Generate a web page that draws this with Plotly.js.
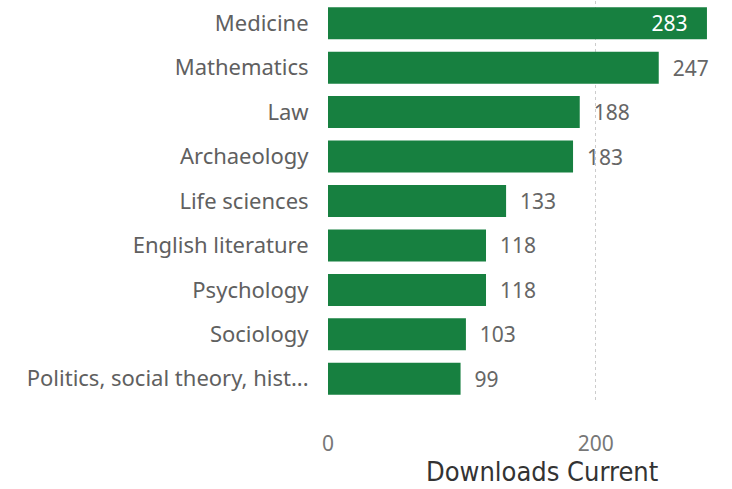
<!DOCTYPE html>
<html>
<head>
<meta charset="utf-8">
<script src="https://cdn.plot.ly/plotly-3.0.1.min.js"></script>
<style>html,body{margin:0;padding:0;background:#fff;}#chart{width:732px;height:489px;}</style>
</head>
<body>
<div id="chart"></div>
<script>
var categories = ["Medicine","Mathematics","Law","Archaeology","Life sciences","English literature","Psychology","Sociology","Politics, social theory, hist..."];
var downloads = [283, 247, 188, 183, 133, 118, 118, 103, 99];
var labelPositions = ["inside","outside","outside","outside","outside","outside","outside","outside","outside"];
var xTickValues = [0, 200];
var xAxisTitle = "Downloads Current";

var NB = "\u00a0\u00a0";
var labelTexts = downloads.map(function (v, i) {
  return labelPositions[i] === "inside" ? String(v) + NB + "\u00a0" : NB + String(v);
});

var trace = {
  type: "bar",
  orientation: "h",
  y: categories,
  x: downloads,
  text: labelTexts,
  textposition: labelPositions,
  insidetextanchor: "end",
  constraintext: "none",
  insidetextfont: {color: "#ffffff", size: 21, family: "Noto Sans, sans-serif"},
  outsidetextfont: {color: "#666666", size: 21, family: "Noto Sans, sans-serif"},
  cliponaxis: false,
  marker: {color: "#178040"},
  hoverinfo: "none"
};

var layout = {
  width: 732, height: 489,
  margin: {l: 328, r: 13, t: 1, b: 88},
  paper_bgcolor: "#ffffff", plot_bgcolor: "#ffffff",
  bargap: 0.28,
  showlegend: false,
  font: {family: "Noto Sans, sans-serif", color: "#666666", size: 20},
  xaxis: {
    range: [0, 292],
    tickvals: xTickValues,
    ticktext: xTickValues.map(String),
    showgrid: true, gridcolor: "#cccccc", griddash: "dot", gridwidth: 1,
    zeroline: false, showline: false,
    ticks: "outside", ticklen: 24, tickcolor: "rgba(0,0,0,0)",
    tickfont: {size: 21, color: "#777777"}
  },
  yaxis: {
    autorange: "reversed",
    showgrid: false, zeroline: false, showline: false,
    ticks: "outside", ticklen: 14, tickcolor: "rgba(0,0,0,0)",
    tickfont: {size: 22, color: "#606060"}
  },
  annotations: [{
    text: xAxisTitle,
    xref: "paper", yref: "paper",
    x: 0.547, y: -0.175,
    xanchor: "center", yanchor: "middle",
    showarrow: false,
    font: {size: 27, color: "#333333", family: "DejaVu Sans Condensed, Noto Sans, sans-serif"}
  }]
};

Plotly.newPlot("chart", [trace], layout, {displayModeBar: false, staticPlot: true});
</script>
</body>
</html>
